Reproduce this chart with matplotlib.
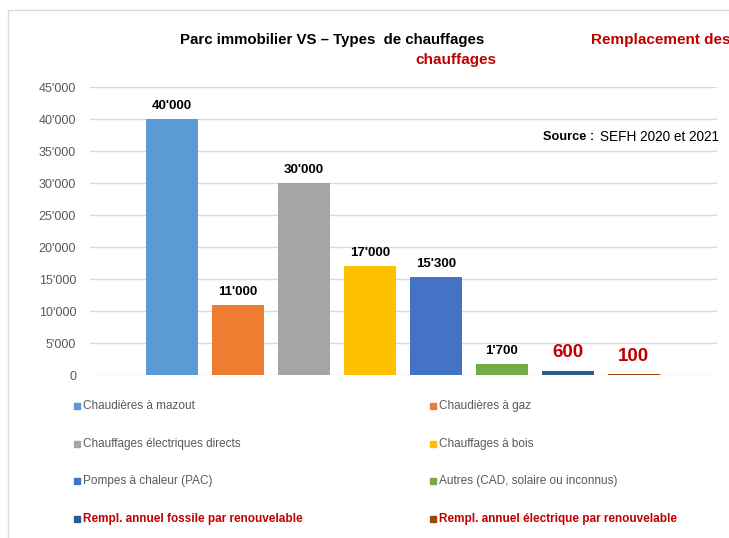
import matplotlib.pyplot as plt
from matplotlib.patches import Rectangle
from matplotlib.ticker import FuncFormatter, MultipleLocator
from matplotlib import font_manager

noms = ['Chaudières à mazout', 'Chaudières à gaz', 'Chauffages électriques directs',
        'Chauffages à bois', 'Pompes à chaleur (PAC)', 'Autres (CAD, solaire ou inconnus)',
        'Rempl. annuel fossile par renouvelable', 'Rempl. annuel électrique par renouvelable']
valeurs = [40000, 11000, 30000, 17000, 15300, 1700, 600, 100]
couleurs = ['#5B9BD5', '#ED7D31', '#A5A5A5', '#FFC000', '#4472C4', '#70AD47', '#255E91', '#9E480E']
rouge = '#C00000'

# police étroite type Calibri si dispo
noms_polices = {f.name for f in font_manager.fontManager.ttflist}
etroite = 'Liberation Sans Narrow' if 'Liberation Sans Narrow' in noms_polices else 'Liberation Sans'
plt.rcParams['font.family'] = [etroite, 'DejaVu Sans']

fmt = lambda v: f"{int(v):,}".replace(',', "'")

fig = plt.figure(figsize=(7.29, 5.38), dpi=100)
W, H = 729, 538

# cadre gris clair
fig.patches.append(Rectangle((8 / W, -0.1), 1.2, 1 - 10 / H + 0.1, transform=fig.transFigure,
                             fill=False, edgecolor='#D9D9D9', lw=1))

ax = fig.add_axes([90 / W, (H - 375) / H, (717 - 90) / W, (375 - 87) / H])
x = list(range(len(valeurs)))
ax.bar(x, valeurs, width=0.79, color=couleurs, zorder=3)
ax.set_xlim(-1.24, 8.26)
ax.set_ylim(0, 45000)
ax.yaxis.set_major_locator(MultipleLocator(5000))
ax.yaxis.set_major_formatter(FuncFormatter(lambda v, p: fmt(v)))
ax.grid(axis='y', color='#D9D9D9', lw=1, zorder=0)
ax.set_xticks([])
for s in ax.spines.values():
    s.set_visible(False)
ax.tick_params(axis='y', length=0, pad=10, labelsize=9, labelcolor='#595959')

for i, v in enumerate(valeurs):
    if i >= 6:
        ax.annotate(fmt(v), (i, v), xytext=(0, 7), textcoords='offset points',
                    ha='center', va='bottom', fontsize=13.5, fontweight='bold', color=rouge)
    else:
        ax.annotate(fmt(v), (i, v), xytext=(0, 5), textcoords='offset points',
                    ha='center', va='bottom', fontsize=9.5, fontweight='bold', color='black')

# titres
fig.text(332 / W, 1 - 40 / H, 'Parc immobilier VS – Types  de chauffages', ha='center', va='center',
         fontsize=10.8, fontweight='bold')
fig.text(456 / W, 1 - 60 / H, 'chauffages', ha='center', va='center',
         fontsize=11, fontweight='bold', color=rouge)
fig.text(591 / W, 1 - 40 / H, 'Remplacement des', ha='left', va='center',
         fontsize=11, fontweight='bold', color=rouge)
fig.text(543 / W, 1 - 137 / H, 'Source :', ha='left', va='center',
         fontsize=9.2, fontweight='bold', family=['Liberation Sans', 'DejaVu Sans'])
fig.text(600 / W, 1 - 137 / H, 'SEFH 2020 et 2021', ha='left', va='center',
         fontsize=9.8, family=['Liberation Sans', 'DejaVu Sans'])

# légende
lignes_y = [406, 444, 481, 519]
cols_x = [74, 430]
for i, (n, c) in enumerate(zip(noms, couleurs)):
    r, k = divmod(i, 2)
    xx, yy = cols_x[k], lignes_y[r]
    fig.patches.append(Rectangle((xx / W, 1 - (yy + 3) / H), 6 / W, 6 / H,
                                 transform=fig.transFigure, color=c))
    special = i >= 6
    fig.text((xx + 9) / W, 1 - yy / H, n, ha='left', va='center', fontsize=8.5,
             color=rouge if special else '#595959', fontweight='bold' if special else 'normal')

plt.savefig('out.png', dpi=100)
